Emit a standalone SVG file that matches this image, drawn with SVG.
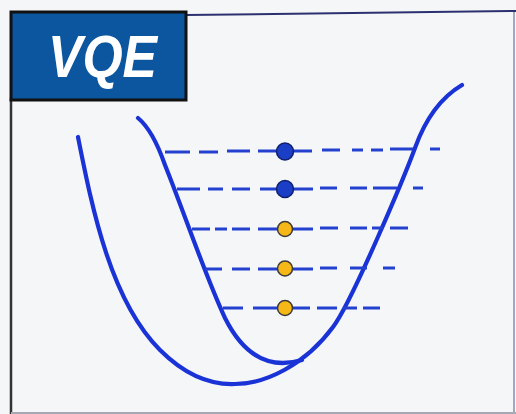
<svg xmlns="http://www.w3.org/2000/svg" width="516" height="414" viewBox="0 0 516 414">
<style>
.curve{fill:none;stroke:#1a33d6;stroke-width:4.2;stroke-linecap:round;stroke-linejoin:round}
.dash{fill:none;stroke:#2340cf;stroke-width:3;stroke-linecap:butt}
.blue{fill:#1a3ec6;stroke:#10206e;stroke-width:1.5}
.yellow{fill:#f6b817;stroke:#3a3a3a;stroke-width:1.5}
.title{font-family:"Liberation Sans",Arial,sans-serif;font-weight:bold;font-style:italic;font-size:60px;fill:#ffffff}
</style>
<rect x="0" y="0" width="516" height="414" fill="#f5f6f8"/>
<g id="frame">
<line x1="11" y1="98" x2="11" y2="414" stroke="#333" stroke-width="2.5"/>
<line x1="186" y1="15" x2="516" y2="11" stroke="#2b3170" stroke-width="2"/>
<line x1="514" y1="12" x2="514" y2="414" stroke="#a4a9bf" stroke-width="2"/>
<line x1="11" y1="413" x2="516" y2="413" stroke="#a6a9b4" stroke-width="2"/>
</g>
<g id="title">
<rect x="11" y="12" width="175" height="88" fill="#0c56a0" stroke="#111" stroke-width="3"/>
<text class="title" x="48" y="77" textLength="109" lengthAdjust="spacingAndGlyphs">VQE</text>
</g>
<g id="curves">
<path class="curve" d="M78,137 C92,207 110,300 160,350 C185,375 210,385 235,384 C265,384 305,365 333,327 C352,302 405,175 415,148 C425,120 440,98 462,85"/>
<path class="curve" d="M138,118 C150,128 158,145 165,165 C185,215 205,275 225,318 C245,358 272,369 302,360"/>
</g>
<g id="levels">
<path class="dash" d="M165,152H190M199,152H218M227,151H250M258,151H312M322,150H340M352,150H363M371,150H383M390,149H413M430,149H440"/>
<path class="dash" d="M177,189H200M208,189H223M232,189H250M260,189H313M320,188H337M350,188H367M373,188H397M413,188H423"/>
<path class="dash" d="M192,229H210M215,229H227M232,229H250M258,229H313M320,228H338M350,228H367M372,228H383M390,228H408"/>
<path class="dash" d="M205,269H222M232,269H250M258,269H313M320,268H337M350,268H367M383,268H395"/>
<path class="dash" d="M223,308H243M253,308H310M317,308H337M343,308H357M363,308H380"/>
</g>
<g id="dots">
<circle class="blue" cx="285" cy="151.5" r="8.5"/>
<circle class="blue" cx="285" cy="189" r="8.5"/>
<circle class="yellow" cx="285" cy="229" r="7.5"/>
<circle class="yellow" cx="285" cy="268.5" r="7.5"/>
<circle class="yellow" cx="285" cy="308" r="7.5"/>
</g>
</svg>
